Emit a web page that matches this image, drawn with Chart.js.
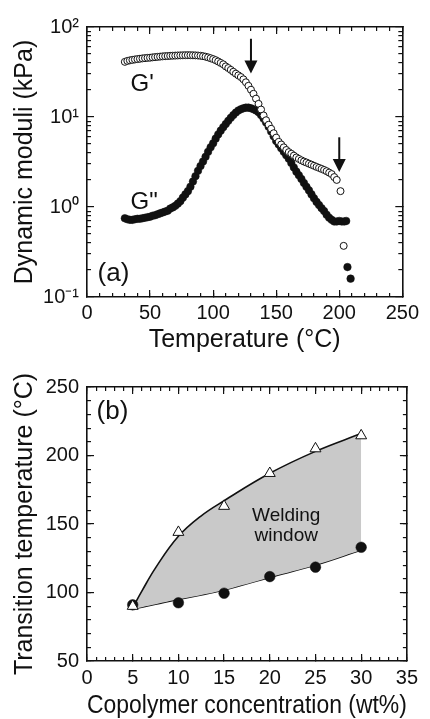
<!DOCTYPE html>
<html><head><meta charset="utf-8">
<script src="https://cdn.jsdelivr.net/npm/chart.js@4.4.1/dist/chart.umd.min.js"></script>
<style>
html,body{margin:0;padding:0;background:#fff;}
#wrap{width:430px;height:719px;position:relative;overflow:hidden;}
canvas{position:absolute;left:0;}
#chartA{top:0;}
#chartB{top:360px;}
</style></head><body>
<div id="wrap"><canvas id="chartA" width="430" height="360"></canvas><canvas id="chartB" width="430" height="359"></canvas></div>
<script>
// ---------- Panel (a) data ----------
const tempGp = [30,32,34,36,38,40,42,44,46,48,50,52,54,56,58,60,62,64,66,68,70,72,74,76,78,80,82,84,86,88,90,92,94,96,98,100,102,104,106,108,110,112,114,116,118,120,122,124,126,128,130,132,134,136,138,140,142,144,146,148,150,152,154,156,158,160,162,164,166,168,170,172,174,176,178,180,182,184,186,188,190,192,194,196,198,201,203.5];
const gPrime = [41,42,42.6,43.1,43.6,44,44.4,44.8,45.1,45.4,45.6,46,46.3,46.6,46.9,47.2,47.4,47.6,47.8,48,48.1,48.3,48.4,48.5,48.6,48.6,48.6,48.5,48.4,48.2,47.9,47.4,46.8,46,45,44,42.8,41.4,39.9,38.5,36.5,35,33.4,31.8,30.3,29,27.8,26.2,24.3,22.2,20.1,18.1,16,14,12.1,10.4,9.2,8.2,7.4,6.6,5.9,5.3,4.95,4.6,4.3,4.07,3.9,3.72,3.55,3.42,3.3,3.2,3.12,3.03,2.95,2.87,2.79,2.72,2.65,2.58,2.5,2.41,2.32,2.15,2.0,1.5,0.37];
const tempGpp = [30,32,34,36,38,40,42,44,46,48,50,52,54,56,58,60,62,64,66,68,70,72,74,76,78,80,82,84,86,88,90,92,94,96,98,100,102,104,106,108,110,112,114,116,118,120,122,124,126,128,130,132,134,136,138,140,142,144,146,148,150,152,154,156,158,160,162,164,166,168,170,172,174,176,178,180,182,184,186,188,190,192,194,196,198,200,202,204,205.5,206.5,209];
const gDoublePrime = [0.75,0.73,0.72,0.72,0.73,0.74,0.74,0.75,0.76,0.77,0.78,0.8,0.81,0.83,0.85,0.87,0.89,0.91,0.96,0.99,1.03,1.09,1.16,1.27,1.38,1.5,1.68,1.92,2.2,2.52,2.85,3.2,3.62,4.1,4.6,5.1,5.75,6.4,7.05,7.7,8.35,9.06,9.8,10.5,11.2,11.8,12.2,12.5,12.7,12.7,12.5,12.2,11.8,11.3,10.5,9.6,8.7,7.8,6.9,6.1,5.4,4.95,4.5,4.1,3.75,3.44,3.08,2.75,2.47,2.25,2.05,1.85,1.68,1.53,1.38,1.25,1.14,1.05,0.97,0.9,0.82,0.76,0.72,0.69,0.69,0.7,0.69,0.69,0.7,0.215,0.16];
const tempTicks = [0,50,100,150,200,250];
const moduliTicks = [0.1,1,10,100];
const moduliTickLabels = ['10\u207B\u00B9','10\u2070','10\u00B9','10\u00B2'];

// ---------- Panel (b) data ----------
const concentration = [5,10,15,20,25,30];
const upperTransition = [90,144,163,187,205,214.5];   // open triangles
const lowerTransition = [91,92.5,99.5,111.6,118.5,133]; // filled circles
const fitConcentration = [5,6,7.5,10,12.5,15,20,25,30];
const upperFit = [89,101,118,141,156,167,187,203,216];
const lowerFit = [88,89.3,91.4,95,98.2,101.8,111,120,131];
const concTicks = [0,5,10,15,20,25,30,35];
const transTicks = [50,100,150,200,250];

// ---------- helpers ----------
const FONT = "'Liberation Sans', Arial, Helvetica, sans-serif";
const INK = '#111111';
const pts = (xs, ys) => xs.map((x, i) => ({x: x, y: ys[i]}));
function range(a, b, s) { const r = []; for (let v = a; v <= b + 1e-9; v += s) r.push(Math.round(v * 1000) / 1000); return r; }
const logMinor = [];
[-1, 0, 1].forEach(d => { for (let m = 2; m <= 9; m++) logMinor.push(m * Math.pow(10, d)); });

// zero-size companion axis: draws only its border and inward tick marks
function edgeAxis(position, type, min, max, values, len, weight, withBorder) {
  const horizontal = position === 'top' || position === 'bottom';
  return {
    type: type, position: position, min: min, max: max, weight: weight,
    afterBuildTicks: s => { s.ticks = values.map(v => ({ value: v })); },
    afterFit: s => { if (horizontal) s.height = 0; else s.width = 0; },
    ticks: { display: false },
    grid: { display: true, drawOnChartArea: false, drawTicks: true, tickLength: -len,
            color: INK, tickColor: INK, lineWidth: 1.2, tickWidth: 1.2 },
    border: { display: withBorder, color: INK, width: 1.6 },
    title: { display: false }
  };
}

function makeNotes(pid, cfg) {
  return {
    id: pid,
    afterDraw(chart) {
      const ctx = chart.ctx;
      const xs = chart.scales.x, ys = chart.scales.y;
      ctx.save();
      ctx.fillStyle = INK;
      (cfg.texts || []).forEach(t => {
        ctx.font = t.size + 'px ' + FONT;
        ctx.textAlign = t.align || 'left';
        ctx.textBaseline = 'middle';
        ctx.fillText(t.text, xs.getPixelForValue(t.x), ys.getPixelForValue(t.y));
      });
      (cfg.arrows || []).forEach(ar => {
        const x = xs.getPixelForValue(ar.x);
        const y0 = ys.getPixelForValue(ar.from), y1 = ys.getPixelForValue(ar.to);
        const hh = 13, hw = 6.5;
        ctx.fillRect(x - 1, y0, 2, y1 - hh + 1 - y0);
        ctx.beginPath(); ctx.moveTo(x - hw, y1 - hh); ctx.lineTo(x + hw, y1 - hh); ctx.lineTo(x, y1); ctx.closePath(); ctx.fill();
      });
      ctx.restore();
    }
  };
}

const mainGrid = { display: true, drawOnChartArea: false, drawTicks: true, tickLength: -7,
                   color: INK, tickColor: INK, lineWidth: 1.2, tickWidth: 1.2 };
const mainBorder = { display: true, color: INK, width: 1.6 };

// ---------- Chart (a) ----------
new Chart(document.getElementById('chartA'), {
  type: 'scatter',
  data: { datasets: [
    { label: "G'", data: pts(tempGp, gPrime), pointStyle: 'circle', pointRadius: 3.5,
      pointBackgroundColor: '#fff', pointBorderColor: INK, pointBorderWidth: 1, order: 1 },
    { label: 'G"', data: pts(tempGpp, gDoublePrime), pointStyle: 'circle', pointRadius: 3.8,
      pointBackgroundColor: INK, pointBorderColor: INK, pointBorderWidth: 0.5, order: 2 }
  ]},
  options: {
    responsive: false, animation: false, devicePixelRatio: 1,
    layout: { padding: { top: 23, right: 16, left: 0, bottom: 0 } },
    plugins: { legend: { display: false }, tooltip: { enabled: false } },
    scales: {
      x: { type: 'linear', position: 'bottom', min: 0, max: 250, weight: 0,
        afterBuildTicks: s => { s.ticks = tempTicks.map(v => ({ value: v })); },
        afterFit: s => { s.height = 63; },
        grid: mainGrid, border: mainBorder,
        ticks: { color: INK, font: { family: FONT, size: 20 }, padding: 11, maxRotation: 0 },
        title: { display: true, text: 'Temperature (\u00B0C)', color: INK,
          font: { family: FONT, size: 25, lineHeight: 1.2 }, padding: { top: 0, bottom: 5 } } },
      y: { type: 'logarithmic', position: 'left', min: 0.1, max: 100, weight: 0,
        afterBuildTicks: s => { s.ticks = moduliTicks.map(v => ({ value: v })); },
        afterFit: s => { s.width = 87; },
        grid: mainGrid, border: mainBorder,
        ticks: { color: INK, font: { family: FONT, size: 20 }, padding: 15,
          callback: v => { const i = moduliTicks.indexOf(v); return i >= 0 ? moduliTickLabels[i] : ''; } },
        title: { display: true, text: 'Dynamic moduli (kPa)', color: INK,
          font: { family: FONT, size: 25, lineHeight: 1.2 }, padding: { top: 10, bottom: 0 } } },
      xMinor: edgeAxis('bottom', 'linear', 0, 250, range(0, 250, 10), 4, -10, false),
      xTop: edgeAxis('top', 'linear', 0, 250, tempTicks, 7, -5, true),
      xTopMinor: edgeAxis('top', 'linear', 0, 250, range(0, 250, 10), 4, -10, false),
      yMinor: edgeAxis('left', 'logarithmic', 0.1, 100, logMinor, 4, -10, false),
      yRight: edgeAxis('right', 'logarithmic', 0.1, 100, moduliTicks, 7, -5, true),
      yRightMinor: edgeAxis('right', 'logarithmic', 0.1, 100, logMinor, 4, -10, false)
    }
  },
  plugins: [
    makeNotes('notesA', {
      texts: [
        { text: "G'", x: 34.5, y: 23, size: 24 },
        { text: 'G"', x: 34.5, y: 1.13, size: 24 },
        { text: '(a)', x: 8.4, y: 0.183, size: 26 }
      ],
      arrows: [ { x: 130, from: 74, to: 30.5 }, { x: 200, from: 5.95, to: 2.45 } ]
    })
  ]
});

// ---------- Chart (b) ----------
new Chart(document.getElementById('chartB'), {
  type: 'scatter',
  data: { datasets: [
    { label: 'upper markers', data: pts(concentration, upperTransition), pointStyle: 'triangle', pointRadius: 6.3,
      pointBackgroundColor: '#fff', pointBorderColor: INK, pointBorderWidth: 1, order: 1 },
    { label: 'lower markers', data: pts(concentration, lowerTransition), pointStyle: 'circle', pointRadius: 5.3,
      pointBackgroundColor: INK, pointBorderColor: INK, pointBorderWidth: 0.5, order: 2 },
    { label: 'upper fit', data: pts(fitConcentration, upperFit), showLine: true, pointRadius: 0,
      borderColor: INK, borderWidth: 1.6, tension: 0.4,
      fill: { target: 3, above: '#c9c9c9', below: '#c9c9c9' }, backgroundColor: '#c9c9c9', order: 3 },
    { label: 'lower fit', data: pts(fitConcentration, lowerFit), showLine: true, pointRadius: 0,
      borderColor: INK, borderWidth: 1.6, tension: 0.4, fill: false, order: 4 }
  ]},
  options: {
    responsive: false, animation: false, devicePixelRatio: 1,
    layout: { padding: { top: 25, right: 16, left: 0, bottom: 0 } },
    plugins: { legend: { display: false }, tooltip: { enabled: false }, filler: { propagate: false } },
    scales: {
      x: { type: 'linear', position: 'bottom', min: 0, max: 35, weight: 0,
        afterBuildTicks: s => { s.ticks = concTicks.map(v => ({ value: v })); },
        afterFit: s => { s.height = 58; },
        grid: mainGrid, border: mainBorder,
        ticks: { color: INK, font: { family: FONT, size: 20 }, padding: 12, maxRotation: 0 },
        title: { display: true, text: 'Copolymer concentration (wt%)', color: INK,
          font: { family: FONT, size: 25, lineHeight: 1.0 }, padding: { top: 0, bottom: 0 } } },
      y: { type: 'linear', position: 'left', min: 50, max: 250, weight: 0,
        afterBuildTicks: s => { s.ticks = transTicks.map(v => ({ value: v })); },
        afterFit: s => { s.width = 87; },
        grid: mainGrid, border: mainBorder,
        ticks: { color: INK, font: { family: FONT, size: 20 }, padding: 15 },
        title: { display: true, text: 'Transition temperature (\u00B0C)', color: INK,
          font: { family: FONT, size: 25, lineHeight: 1.2 }, padding: { top: 10, bottom: 0 } } },
      xMinor: edgeAxis('bottom', 'linear', 0, 35, range(0, 35, 1), 4, -10, false),
      xTop: edgeAxis('top', 'linear', 0, 35, concTicks, 7, -5, true),
      xTopMinor: edgeAxis('top', 'linear', 0, 35, range(0, 35, 1), 4, -10, false),
      yMinor: edgeAxis('left', 'linear', 50, 250, range(50, 250, 10), 4, -10, false),
      yRight: edgeAxis('right', 'linear', 50, 250, transTicks, 7, -5, true),
      yRightMinor: edgeAxis('right', 'linear', 50, 250, range(50, 250, 10), 4, -10, false)
    }
  },
  plugins: [
    makeNotes('notesB', {
      texts: [
        { text: '(b)', x: 1.05, y: 232, size: 26 },
        { text: 'Welding', x: 21.8, y: 155.8, size: 19, align: 'center' },
        { text: 'window', x: 21.8, y: 141.3, size: 19, align: 'center' }
      ]
    })
  ]
});
</script>
</body></html>
